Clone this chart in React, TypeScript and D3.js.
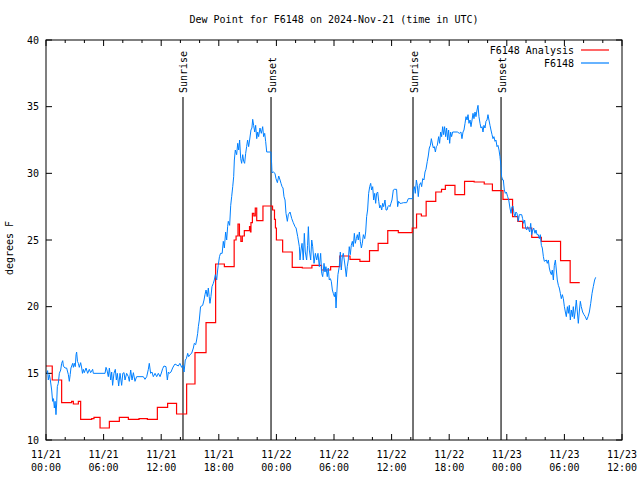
import React from "react";
import * as d3 from "d3";

// ---- data (hours since 2024-11-21 00:00 UTC) ----
const analysisHours = [0, 0.65, 1.63, 2.67, 2.85, 3.37, 3.61, 4.76, 5.0, 5.63, 6.6, 7.64, 8.58, 9.69, 10.56, 11.6, 12.67, 13.6, 14.65, 15.52, 16.67, 17.67, 18.58, 19.6, 19.8, 20.0, 20.15, 20.3, 20.45, 20.66, 21.2, 21.3, 21.35, 21.5, 21.65, 21.8, 21.95, 22.6, 23.6, 23.8, 23.9, 24.0, 24.65, 25.65, 26.7, 27.7, 28.7, 29.65, 30.6, 31.67, 32.7, 33.7, 34.6, 35.6, 36.7, 38.15, 38.6, 39.1, 39.6, 40.6, 41.2, 41.6, 42.6, 43.6, 44.6, 45.65, 46.5, 47.6, 48.6, 49.15, 49.65, 50.6, 51.6, 52.6, 53.6, 54.6, 55.6];
const analysisValues = [15.55, 14.5, 12.8, 12.9, 12.7, 12.9, 11.55, 11.6, 11.7, 10.9, 11.4, 11.7, 11.55, 11.6, 11.55, 12.45, 12.75, 11.95, 14.2, 16.55, 18.8, 23.2, 23.0, 25.0, 25.3, 26.2, 25.3, 24.9, 25.3, 25.7, 26.0, 25.6, 26.3, 27.0, 26.8, 27.4, 26.45, 27.55, 27.25, 26.55, 25.9, 25.0, 24.1, 22.95, 22.9, 23.1, 22.75, 23.0, 23.8, 23.55, 23.4, 24.2, 24.75, 25.7, 25.55, 25.9, 26.95, 26.8, 27.9, 28.6, 28.8, 29.1, 28.4, 29.4, 29.35, 29.2, 28.7, 28.05, 26.75, 26.4, 25.9, 25.2, 24.9, 24.9, 23.45, 21.8, 21.8];

const obsHours = [0.07, 0.17, 0.24, 0.35, 0.45, 0.59, 0.69, 0.78, 0.87, 0.95, 1.04, 1.11, 1.18, 1.28, 1.39, 1.53, 1.63, 1.74, 1.81, 1.98, 2.15, 2.33, 2.43, 2.52, 2.6, 2.78, 2.85, 2.95, 3.05, 3.13, 3.19, 3.28, 3.37, 3.47, 3.61, 3.72, 3.8, 3.89, 3.99, 4.17, 4.34, 4.51, 4.65, 4.86, 4.93, 6.15, 6.25, 6.35, 6.49, 6.6, 6.74, 6.84, 6.94, 7.08, 7.22, 7.33, 7.43, 7.57, 7.71, 7.88, 8.0, 8.13, 8.23, 8.4, 8.58, 8.68, 8.82, 8.96, 9.1, 9.27, 9.44, 10.14, 10.31, 10.49, 10.66, 10.76, 10.9, 11.04, 11.18, 11.36, 11.53, 11.7, 11.88, 12.05, 12.15, 12.29, 12.5, 12.64, 12.75, 12.85, 13.02, 13.19, 13.3, 13.44, 13.78, 13.95, 14.13, 14.25, 14.38, 14.51, 14.62, 14.76, 14.86, 15.0, 15.17, 15.35, 15.45, 15.59, 15.69, 15.8, 15.87, 15.97, 16.1, 16.32, 16.46, 16.56, 16.67, 16.8, 16.91, 17.0, 17.08, 17.18, 17.29, 17.43, 17.53, 17.64, 17.78, 17.88, 17.94, 18.07, 18.18, 18.35, 18.47, 18.58, 18.71, 18.82, 18.92, 18.99, 19.13, 19.24, 19.34, 19.45, 19.55, 19.62, 19.72, 19.86, 19.97, 20.07, 20.17, 20.28, 20.38, 20.49, 20.59, 20.69, 20.8, 20.9, 21.0, 21.11, 21.21, 21.35, 21.45, 21.53, 21.63, 21.74, 21.84, 21.95, 22.05, 22.15, 22.29, 22.43, 22.57, 22.67, 22.78, 22.88, 22.99, 23.43, 23.5, 23.54, 23.68, 23.85, 23.96, 24.1, 24.24, 24.38, 24.48, 24.59, 24.69, 24.79, 24.9, 25.0, 25.14, 25.24, 25.42, 25.6, 25.76, 25.94, 26.05, 26.22, 26.39, 26.46, 26.56, 26.67, 26.8, 26.91, 27.01, 27.15, 27.25, 27.33, 27.43, 27.57, 27.68, 27.78, 27.92, 28.06, 28.2, 28.33, 28.47, 28.61, 28.72, 28.82, 28.96, 29.06, 29.16, 29.3, 29.4, 29.51, 29.62, 29.72, 29.83, 29.93, 30.04, 30.14, 30.21, 30.31, 30.41, 30.55, 30.66, 30.76, 30.87, 30.97, 31.07, 31.18, 31.28, 31.38, 31.49, 31.59, 31.7, 31.8, 31.91, 32.01, 32.12, 32.22, 32.33, 32.43, 32.53, 32.64, 32.74, 32.85, 32.95, 33.06, 33.2, 33.3, 33.4, 33.5, 33.61, 33.72, 33.82, 33.92, 34.03, 34.13, 34.24, 34.34, 34.44, 34.55, 34.66, 34.76, 34.86, 34.97, 35.07, 35.17, 35.31, 35.42, 35.52, 35.62, 35.73, 35.83, 35.93, 36.04, 36.18, 36.28, 36.52, 36.63, 36.73, 36.87, 37.0, 37.24, 37.57, 37.74, 38.19, 38.26, 38.37, 38.47, 38.58, 38.68, 38.78, 38.89, 39.03, 39.13, 39.24, 39.37, 39.48, 39.58, 39.72, 39.82, 39.93, 40.04, 40.14, 40.25, 40.35, 40.45, 40.56, 40.66, 40.76, 40.9, 41.0, 41.11, 41.21, 41.32, 41.42, 41.52, 41.63, 41.73, 41.84, 41.94, 42.05, 42.15, 42.25, 42.36, 42.85, 43.06, 43.22, 43.33, 43.44, 43.54, 43.65, 43.75, 43.86, 43.96, 44.06, 44.17, 44.27, 44.38, 44.48, 44.58, 44.69, 44.79, 44.9, 45.0, 45.1, 45.21, 45.31, 45.42, 45.52, 45.62, 45.73, 45.83, 45.94, 46.04, 46.14, 46.25, 46.35, 46.46, 46.56, 46.66, 46.77, 46.87, 46.98, 47.08, 47.19, 47.29, 47.4, 47.46, 47.57, 47.64, 47.74, 47.85, 47.95, 48.09, 48.2, 48.33, 48.44, 48.54, 48.64, 48.75, 48.85, 48.95, 49.06, 49.2, 49.3, 49.55, 49.65, 49.76, 49.86, 49.96, 50.07, 50.17, 50.28, 50.38, 50.49, 50.59, 50.7, 50.8, 50.94, 51.04, 51.15, 51.28, 51.39, 51.49, 51.6, 51.7, 51.81, 51.91, 52.12, 52.22, 52.33, 52.43, 52.53, 52.64, 52.74, 52.85, 52.95, 53.06, 53.16, 53.26, 53.37, 53.47, 53.58, 53.68, 53.79, 53.89, 54.0, 54.1, 54.2, 54.31, 54.41, 54.51, 54.62, 54.72, 54.83, 54.93, 55.03, 55.14, 55.24, 55.35, 55.45, 55.55, 55.66, 55.76, 55.9, 56.04, 56.18, 56.32, 56.46, 56.6, 56.74, 56.88, 57.01, 57.15, 57.26];
const obsValues = [15.0, 15.2, 14.5, 14.9, 14.5, 13.75, 12.9, 13.1, 12.4, 12.9, 11.9, 12.7, 14.0, 14.25, 15.0, 15.25, 15.75, 15.95, 15.55, 15.4, 15.4, 14.9, 14.4, 14.9, 15.4, 15.75, 15.45, 15.75, 15.5, 16.4, 16.6, 15.9, 15.75, 15.45, 15.8, 15.4, 15.0, 15.3, 15.05, 15.4, 15.0, 15.3, 15.05, 15.3, 15.0, 15.0, 15.45, 15.25, 14.75, 15.4, 14.5, 15.1, 14.1, 15.0, 15.3, 14.5, 15.0, 14.05, 15.0, 14.1, 15.0, 15.05, 14.5, 15.0, 14.75, 14.4, 15.25, 14.5, 15.05, 14.4, 14.75, 14.75, 14.55, 14.75, 15.3, 15.75, 15.0, 15.1, 14.75, 15.0, 14.75, 15.0, 14.75, 15.1, 15.35, 15.55, 15.5, 14.5, 15.1, 15.0, 15.1, 15.4, 15.55, 15.7, 15.55, 15.75, 15.45, 15.6, 15.1, 16.0, 16.1, 16.5, 16.25, 16.4, 16.5, 16.9, 17.25, 17.15, 17.5, 18.0, 18.5, 19.0, 20.0, 20.1, 20.5, 20.9, 21.25, 20.75, 21.4, 20.75, 20.25, 20.75, 21.5, 21.75, 22.0, 22.4, 22.0, 22.75, 23.1, 23.75, 24.0, 24.0, 24.9, 24.4, 25.6, 25.0, 26.0, 26.4, 26.1, 27.6, 28.25, 29.0, 29.75, 31.0, 31.75, 31.4, 32.25, 31.75, 32.5, 31.1, 30.75, 31.4, 30.9, 30.75, 31.5, 32.0, 32.5, 32.0, 32.5, 33.25, 33.4, 34.05, 33.6, 33.1, 33.6, 32.6, 33.1, 32.75, 33.4, 33.0, 33.5, 32.75, 33.0, 32.4, 31.6, 31.6, 30.75, 30.05, 30.1, 30.0, 29.6, 29.3, 29.8, 29.5, 29.25, 29.0, 28.9, 28.25, 28.0, 27.0, 26.4, 26.9, 27.1, 26.6, 26.3, 26.0, 25.9, 25.25, 24.5, 23.5, 24.25, 24.75, 23.5, 25.5, 24.1, 23.5, 24.6, 26.0, 24.25, 23.5, 25.0, 24.5, 23.25, 24.0, 23.5, 24.0, 23.0, 24.0, 22.5, 22.25, 23.25, 22.6, 23.0, 22.25, 22.9, 22.0, 22.1, 21.9, 21.25, 21.0, 20.75, 21.1, 19.9, 21.25, 22.4, 23.0, 24.1, 22.75, 23.75, 24.0, 23.5, 22.9, 22.25, 23.0, 23.5, 24.5, 23.9, 24.6, 24.9, 24.5, 25.5, 24.75, 25.1, 25.4, 25.0, 25.6, 24.9, 24.4, 24.75, 25.4, 25.1, 25.6, 26.75, 27.25, 28.5, 29.0, 29.25, 28.75, 29.0, 28.0, 28.5, 27.75, 28.5, 28.6, 27.9, 27.4, 27.6, 27.25, 27.75, 27.5, 28.0, 27.25, 27.25, 27.5, 27.6, 27.5, 27.75, 28.0, 28.75, 28.8, 28.8, 27.5, 27.9, 27.75, 27.75, 27.8, 27.8, 28.1, 28.1, 28.75, 29.0, 28.5, 29.5, 29.1, 28.25, 29.1, 29.3, 29.0, 29.6, 29.5, 30.1, 30.3, 30.9, 31.3, 31.9, 32.1, 32.6, 32.2, 31.9, 32.0, 31.6, 32.0, 32.1, 32.75, 32.25, 33.1, 32.75, 33.5, 32.9, 33.5, 32.75, 33.4, 32.5, 33.25, 32.25, 33.1, 32.75, 33.1, 33.1, 33.0, 33.1, 32.6, 33.1, 33.25, 33.75, 34.25, 34.0, 34.4, 33.75, 34.0, 33.5, 34.0, 34.5, 34.1, 34.6, 34.25, 34.75, 35.1, 34.25, 33.75, 33.4, 33.5, 33.1, 33.6, 33.4, 33.9, 34.0, 34.4, 34.0, 33.6, 33.25, 32.9, 32.6, 32.75, 32.4, 32.5, 32.0, 32.1, 31.75, 31.25, 30.5, 29.75, 29.5, 29.5, 28.75, 28.5, 28.6, 28.25, 28.0, 27.4, 27.0, 27.5, 27.55, 27.0, 26.75, 27.1, 27.0, 26.4, 26.9, 26.9, 26.6, 26.25, 26.5, 25.9, 25.75, 26.0, 25.8, 25.6, 26.25, 25.4, 25.75, 25.9, 25.5, 25.75, 25.4, 25.4, 25.1, 25.4, 24.6, 24.4, 23.75, 23.4, 23.5, 23.25, 23.5, 22.9, 22.6, 22.4, 22.75, 22.0, 23.1, 23.5, 22.75, 22.0, 21.6, 21.4, 21.0, 20.6, 20.9, 20.6, 20.0, 19.6, 19.25, 20.0, 19.5, 20.1, 19.0, 19.75, 19.25, 20.0, 19.1, 19.75, 20.5, 19.6, 18.75, 19.6, 20.4, 20.0, 19.6, 19.4, 19.25, 19.0, 19.25, 19.6, 20.25, 21.0, 21.5, 22.0, 22.2];

const sunHours = [14.27, 23.44, 38.23, 47.4];
const sunLabels = ["Sunrise", "Sunset", "Sunrise", "Sunset"];
const yTickValues = [10, 15, 20, 25, 30, 35, 40];
const titleText = "Dew Point for F6148 on 2024-Nov-21 (time in UTC)";
const yLabelText = "degrees F";
const seriesNames = ["F6148 Analysis", "F6148"];
const seriesColors = ["#ff0000", "#0080ff"];

const START = Date.UTC(2024, 10, 21);
const toDate = (h: number) => new Date(START + h * 3600000);

export default function App() {
  const W = 640, H = 480;
  const m = { left: 46, right: 622, top: 40, bottom: 440 };
  const x = d3.scaleUtc().domain([toDate(0), toDate(60)]).range([m.left, m.right]);
  const y = d3.scaleLinear().domain([10, 40]).range([m.bottom, m.top]);
  const font = "'DejaVu Sans Mono', 'Liberation Mono', monospace";

  const analysis = analysisHours.map((h, i) => [toDate(h), analysisValues[i]] as [Date, number]);
  const obs = obsHours.map((h, i) => [toDate(h), obsValues[i]] as [Date, number]);

  const stepLine = d3.line<[Date, number]>().x(d => x(d[0])).y(d => y(d[1])).curve(d3.curveStepAfter);
  const line = d3.line<[Date, number]>().x(d => x(d[0])).y(d => y(d[1]));

  const majorTicks = d3.utcHour.every(6)!.range(toDate(0), toDate(60.01));
  const minorTicks = d3.utcHour.every(2)!.range(toDate(0), toDate(60.01)).filter(d => d.getUTCHours() % 6 !== 0);
  const fmtDay = d3.utcFormat("%m/%d");
  const fmtTime = d3.utcFormat("%H:%M");

  return (
    <svg width={W} height={H} style={{ position: "absolute", left: 0, top: 0, background: "#fff" }} fontFamily={font} fontSize={10}>
      <rect x={0} y={0} width={W} height={H} fill="#fff" />
      <text x={(m.left + m.right) / 2} y={23} textAnchor="middle">{titleText}</text>
      <text transform={`translate(13,248) rotate(-90)`} textAnchor="middle">{yLabelText}</text>

      {/* y ticks */}
      {yTickValues.map(v => (
        <g key={v}>
          <line x1={m.left} x2={m.left + 6} y1={y(v)} y2={y(v)} stroke="#000" />
          <line x1={m.right} x2={m.right - 6} y1={y(v)} y2={y(v)} stroke="#000" />
          <text x={39} y={y(v)} dy="0.35em" textAnchor="end">{v}</text>
        </g>
      ))}
      {/* x ticks */}
      {majorTicks.map(d => (
        <g key={+d}>
          <line x1={x(d)} x2={x(d)} y1={m.bottom} y2={m.bottom - 6} stroke="#000" />
          <line x1={x(d)} x2={x(d)} y1={m.top} y2={m.top + 6} stroke="#000" />
          <text x={x(d)} y={458} textAnchor="middle">{fmtDay(d)}</text>
          <text x={x(d)} y={471} textAnchor="middle">{fmtTime(d)}</text>
        </g>
      ))}
      {minorTicks.map(d => (
        <g key={+d}>
          <line x1={x(d)} x2={x(d)} y1={m.bottom} y2={m.bottom - 3} stroke="#000" />
          <line x1={x(d)} x2={x(d)} y1={m.top} y2={m.top + 3} stroke="#000" />
        </g>
      ))}

      {/* sunrise / sunset */}
      {sunHours.map((h, i) => (
        <g key={i}>
          <line x1={x(toDate(h))} x2={x(toDate(h))} y1={97} y2={m.bottom} stroke="#000" strokeWidth={1.1} />
          <text transform={`translate(${x(toDate(h)) + 1},93) rotate(-90)`} dominantBaseline="central">{sunLabels[i]}</text>
        </g>
      ))}

      <path d={stepLine(analysis) || ""} fill="none" stroke={seriesColors[0]} strokeWidth={1.2} />
      <path d={line(obs) || ""} fill="none" stroke={seriesColors[1]} strokeWidth={1} />

      {/* legend */}
      {seriesNames.map((n, i) => (
        <g key={n}>
          <text x={574} y={50 + i * 13} dy="0.35em" textAnchor="end">{n}</text>
          <line x1={581} x2={609} y1={50 + i * 13} y2={50 + i * 13} stroke={seriesColors[i]} strokeWidth={1.2} />
        </g>
      ))}

      <rect x={m.left} y={m.top} width={m.right - m.left} height={m.bottom - m.top} fill="none" stroke="#000" />
    </svg>
  );
}
